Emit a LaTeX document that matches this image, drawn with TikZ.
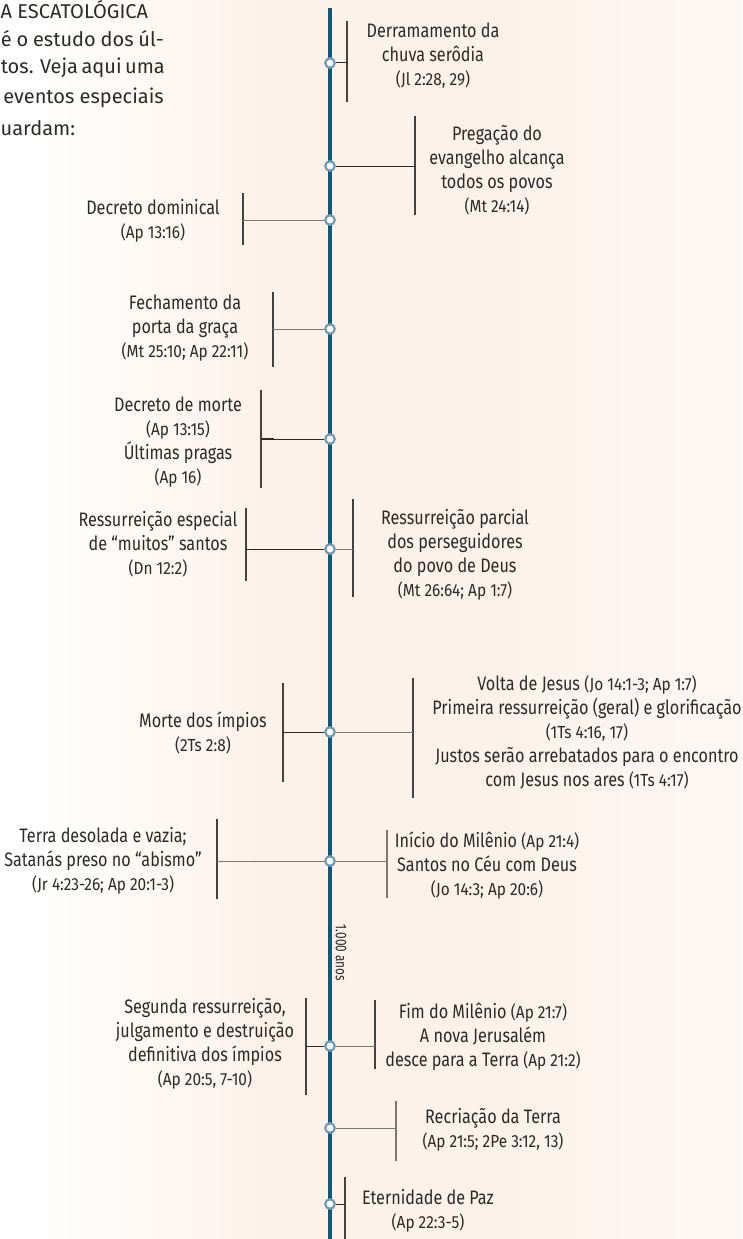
\documentclass[tikz,border=0pt]{standalone}
\usepackage{fontspec}
\setmainfont{Fira Sans}[FakeStretch=0.83]
\newfontfamily\reffont{Fira Sans}[FakeStretch=0.88]
\newfontfamily\milfont{Fira Sans}[FakeStretch=0.76]
\newfontfamily\introfont{Fira Sans}
\definecolor{bgpeach}{RGB}{252,242,234}
\definecolor{bglight}{RGB}{253,247,243}
\definecolor{tlc}{RGB}{15,88,120}
\definecolor{dotc}{RGB}{110,156,182}
\definecolor{txt}{RGB}{45,42,40}
\definecolor{brkc}{RGB}{70,66,64}
\definecolor{connd}{RGB}{45,42,40}
\definecolor{conng}{RGB}{125,118,115}
\newcommand\rf[1]{{\reffont\fontsize{17.5}{24}\selectfont #1}}
\tikzset{
  ev/.style={align=center, text=txt, inner sep=0pt, font=\fontsize{19.5}{24}\selectfont},
  intro/.style={text=txt, inner sep=0pt, font=\introfont\fontsize{20}{29}\selectfont},
  dot/.style={circle, draw=dotc, fill=white, line width=2.2pt, minimum size=9.5pt, inner sep=0pt},
  brk/.style={draw=brkc, line width=1.2pt},
  connL/.style={draw=connd, line width=1pt},
  connR/.style={draw=conng, line width=1pt},
  tline/.style={draw=tlc, line width=3.5pt},
}
\begin{document}
\begin{tikzpicture}[x=1pt,y=-1pt]
\useasboundingbox (0,0) rectangle (742,1239);
% background
\fill[bgpeach] (0,0) rectangle (742,1239);
\fill[white] (0,0) rectangle (40,1239);
\shade[left color=white, right color=bgpeach] (40,0) rectangle (260,1239);
\shade[left color=bgpeach, right color=bglight] (500,0) rectangle (742,1239);

% intro text
\node[intro, anchor=west] (i1) at (0.5,10) {A ESCATOLÓGICA};
\node[intro, anchor=east] (i2) at (164,39) {\makebox[163pt][s]{é o estudo dos úl-}};
\node[intro, anchor=east] (i3) at (164,68) {\makebox[163pt][s]{tos. Veja aqui uma}};
\node[intro, anchor=east] (i4) at (164,98) {eventos especiais};
\node[intro, anchor=west] (i5) at (0.5,128) {uardam:};

% timeline
\coordinate (ttop) at (330,8);
\coordinate (tbot) at (330,1239);
\draw[tline] (ttop) -- (tbot);

% dots
\node[dot] (c1) at (330,63) {};
\node[dot] (c2) at (330,166) {};
\node[dot] (c3) at (330,220) {};
\node[dot] (c4) at (330,329) {};
\node[dot] (c5) at (330,439) {};
\node[dot] (c6) at (330,549) {};
\node[dot] (c7) at (330,732) {};
\node[dot] (c8) at (330,861) {};
\node[dot] (c9) at (330,1046) {};
\node[dot] (c10) at (330,1128) {};
\node[dot] (c11) at (330,1204) {};

% brackets and connectors
\coordinate (b1t) at (347,21); \coordinate (b1b) at (347,102); \coordinate (b1) at (347,63);
\draw[brk] (b1t) -- (b1b); \draw[connL] (c1) -- (b1);
\coordinate (b2t) at (415,116); \coordinate (b2b) at (415,215); \coordinate (b2) at (415,166);
\draw[brk] (b2t) -- (b2b); \draw[connL] (c2) -- (b2);
\coordinate (b3t) at (243,193); \coordinate (b3b) at (243,245); \coordinate (b3) at (243,220);
\draw[brk] (b3t) -- (b3b); \draw[connR] (c3) -- (b3);
\coordinate (b4t) at (273,292); \coordinate (b4b) at (273,367); \coordinate (b4) at (273,329);
\draw[brk] (b4t) -- (b4b); \draw[connR] (c4) -- (b4);
\coordinate (b5t) at (261,390); \coordinate (b5b) at (261,488); \coordinate (b5) at (261,439);
\coordinate (b5s) at (274,439);
\draw[brk] (b5t) -- (b5b); \draw[connL] (c5) -- (b5); \draw[draw=connd, line width=2pt] (b5) -- (b5s);
\coordinate (b6lt) at (246,508); \coordinate (b6lb) at (246,581); \coordinate (b6l) at (246,549);
\draw[brk] (b6lt) -- (b6lb); \draw[connL] (c6) -- (b6l);
\coordinate (b6rt) at (353,499); \coordinate (b6rb) at (353,597); \coordinate (b6r) at (353,549);
\draw[brk] (b6rt) -- (b6rb); \draw[connR] (c6) -- (b6r);
\coordinate (b7lt) at (283,683); \coordinate (b7lb) at (283,782); \coordinate (b7l) at (283,732);
\draw[brk] (b7lt) -- (b7lb); \draw[connL] (c7) -- (b7l);
\coordinate (b7rt) at (413,678); \coordinate (b7rb) at (413,798); \coordinate (b7r) at (413,732);
\draw[brk] (b7rt) -- (b7rb); \draw[connR] (c7) -- (b7r);
\coordinate (b8lt) at (217,819); \coordinate (b8lb) at (217,899); \coordinate (b8l) at (217,861);
\draw[brk] (b8lt) -- (b8lb); \draw[connR] (c8) -- (b8l);
\coordinate (b8rt) at (387,830); \coordinate (b8rb) at (387,898); \coordinate (b8r) at (387,861);
\draw[draw=conng, line width=1.2pt] (b8rt) -- (b8rb); \draw[connR] (c8) -- (b8r);
\coordinate (b9lt) at (306,998); \coordinate (b9lb) at (306,1095); \coordinate (b9l) at (306,1046);
\draw[brk] (b9lt) -- (b9lb); \draw[connL] (c9) -- (b9l);
\coordinate (b9rt) at (375,1000); \coordinate (b9rb) at (375,1069); \coordinate (b9r) at (375,1046);
\draw[brk] (b9rt) -- (b9rb); \draw[connR] (c9) -- (b9r);
\coordinate (b10t) at (396,1101); \coordinate (b10b) at (396,1161); \coordinate (b10) at (396,1128);
\draw[draw=conng, line width=1.2pt] (b10t) -- (b10b); \draw[connR] (c10) -- (b10);
\coordinate (b11t) at (345,1177); \coordinate (b11b) at (345,1239); \coordinate (b11) at (345,1204);
\draw[brk] (b11t) -- (b11b); \draw[connL] (c11) -- (b11);

% millennium label
\node[text=txt, inner sep=0pt, rotate=-90, font=\milfont\fontsize{15.5}{18}\selectfont] (mil) at (341,953) {1.000 anos};

% event texts
\node[ev] (t1) at (433,55.5) {Derramamento da\\chuva serôdia\\\rf{(Jl 2:28, 29)}};
\node[ev] (t2) at (497,170.5) {Pregação do\\evangelho alcança\\todos os povos\\\rf{(Mt 24:14)}};
\node[ev] (t3) at (153,220.5) {Decreto dominical\\\rf{(Ap 13:16)}};
\node[ev] (t4) at (185,328.5) {Fechamento da\\porta da graça\\\rf{(Mt 25:10; Ap 22:11)}};
\node[ev] (t5) at (178,442) {Decreto de morte\\\rf{(Ap 13:15)}\\Últimas pragas\\\rf{(Ap 16)}};
\node[ev] (t6l) at (158,544.5) {Ressurreição especial\\de “muitos” santos\\\rf{(Dn 12:2)}};
\node[ev] (t6r) at (455,554.5) {Ressurreição parcial\\dos perseguidores\\do povo de Deus\\\rf{(Mt 26:64; Ap 1:7)}};
\node[ev] (t7l) at (203,733) {Morte dos ímpios\\\rf{(2Ts 2:8)}};
\node[ev] (t7r) at (587,732.5) {Volta de Jesus \rf{(Jo 14:1-3; Ap 1:7)}\\Primeira ressurreição (geral) e glorificação\\\rf{(1Ts 4:16, 17)}\\Justos serão arrebatados para o encontro\\com Jesus nos ares \rf{(1Ts 4:17)}};
\node[ev] (t8l) at (103,860.5) {Terra desolada e vazia;\\Satanás preso no “abismo”\\\rf{(Jr 4:23-26; Ap 20:1-3)}};
\node[ev] (t8r) at (487,865.5) {Início do Milênio \rf{(Ap 21:4)}\\Santos no Céu com Deus\\\rf{(Jo 14:3; Ap 20:6)}};
\node[ev] (t9l) at (205,1044) {Segunda ressurreição,\\julgamento e destruição\\definitiva dos ímpios\\\rf{(Ap 20:5, 7-10)}};
\node[ev] (t9r) at (483,1037) {Fim do Milênio \rf{(Ap 21:7)}\\A nova Jerusalém\\desce para a Terra \rf{(Ap 21:2)}};
\node[ev] (t10) at (493,1130) {Recriação da Terra\\\rf{(Ap 21:5; 2Pe 3:12, 13)}};
\node[ev] (t11) at (428,1210.5) {Eternidade de Paz\\\rf{(Ap 22:3-5)}};
\end{tikzpicture}
\end{document}
